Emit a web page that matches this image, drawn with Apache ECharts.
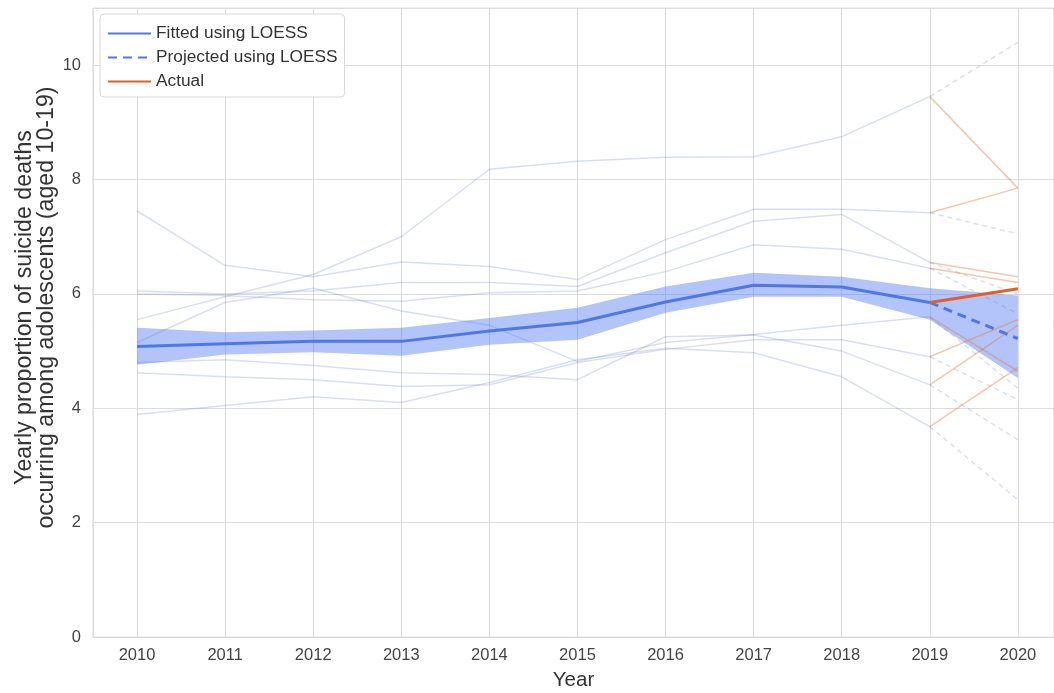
<!DOCTYPE html>
<html>
<head>
<meta charset="utf-8">
<script src="https://cdn.jsdelivr.net/npm/echarts@6/dist/echarts.min.js"></script>
<style>
html,body{margin:0;padding:0;background:#fff;}
#chart{width:1054px;height:693px;}
</style>
</head>
<body>
<div id="chart"></div>
<script>
// ---- data ----
const years = [2010, 2011, 2012, 2013, 2014, 2015, 2016, 2017, 2018, 2019];
const fitted = [5.08, 5.13, 5.17, 5.17, 5.35, 5.5, 5.86, 6.15, 6.12, 5.85];
const fittedProjected2020 = 5.22;
const fittedActual2020 = 6.09;
const bandYears = [2010, 2011, 2012, 2013, 2014, 2015, 2016, 2017, 2018, 2019, 2020];
const bandLow = [4.76, 4.94, 4.98, 4.92, 5.11, 5.2, 5.67, 5.95, 5.95, 5.55, 4.53];
const bandHigh = [5.41, 5.33, 5.36, 5.41, 5.58, 5.76, 6.13, 6.37, 6.3, 6.1, 5.97];

const countryA = [5.55, 5.95, 6.34, 7.0, 8.18, 8.32, 8.39, 8.4, 8.75, 9.45];
const countryB = [7.45, 6.5, 6.3, 6.56, 6.48, 6.25, 6.95, 7.48, 7.48, 7.42];
const countryC = [6.05, 6.0, 6.05, 6.2, 6.2, 6.13, 6.72, 7.27, 7.39, 6.55];
const countryD = [6.0, 5.97, 5.9, 5.87, 6.02, 6.05, 6.39, 6.86, 6.78, 6.45];
const countryE = [5.15, 5.85, 6.1, 5.7, 5.45, 4.82, 5.15, 5.29, 5.45, 5.6];
const countryF = [4.62, 4.55, 4.5, 4.38, 4.41, 4.8, 5.03, 5.2, 5.2, 4.9];
const countryG = [4.8, 4.85, 4.75, 4.62, 4.59, 4.5, 5.25, 5.28, 5.0, 4.41];
const countryH = [3.89, 4.05, 4.2, 4.1, 4.45, 4.85, 5.05, 4.97, 4.55, 3.68];
const countries = [countryA, countryB, countryC, countryD, countryE, countryF, countryG, countryH];
const projected2020 = [10.4, 7.05, 6.0, 5.65, 4.35, 4.15, 3.45, 2.4];
const actual2020 = [7.85, 7.85, 6.3, 6.2, 4.65, 5.55, 5.45, 4.71];

const yTicks = [0, 2, 4, 6, 8, 10];

// ---- styles ----
const FONT = 'Liberation Sans, Arial, sans-serif';
const faintBlue = 'rgba(95,115,215,0.24)';
const faintOrange = 'rgba(232,120,50,0.42)';
const mainBlue = '#4f78e6';
const mainOrange = '#e0602a';

const series = [];
countries.forEach((c, i) => {
  series.push({
    type: 'line', name: 'country' + i, symbol: 'none', silent: true, z: 1,
    data: years.map((y, j) => [y, c[j]]),
    lineStyle: { color: faintBlue, width: 1.5 }
  });
  series.push({
    type: 'line', name: 'countryProj' + i, symbol: 'none', silent: true, z: 1,
    data: [[2019, c[c.length - 1]], [2020, projected2020[i]]],
    lineStyle: { color: faintBlue, width: 1.5, type: [5, 4] }
  });
  series.push({
    type: 'line', name: 'countryAct' + i, symbol: 'none', silent: true, z: 3,
    data: [[2019, c[c.length - 1]], [2020, actual2020[i]]],
    lineStyle: { color: faintOrange, width: 1.5 }
  });
});

// confidence band drawn as a polygon through the axis scales
series.push({
  type: 'custom', name: 'band', silent: true, z: 2,
  data: bandYears.map((y, j) => [y, bandLow[j], bandHigh[j]]),
  encode: { x: 0, y: [1, 2] },
  renderItem: function (params, api) {
    if (params.dataIndex !== 0) return;
    const pts = [];
    bandYears.forEach((y, j) => pts.push(api.coord([y, bandHigh[j]])));
    for (let j = bandYears.length - 1; j >= 0; j--) pts.push(api.coord([bandYears[j], bandLow[j]]));
    return { type: 'polygon', shape: { points: pts }, style: { fill: 'rgba(85,125,242,0.45)' } };
  }
});

series.push({
  type: 'line', name: 'Fitted using LOESS', symbol: 'none', z: 5,
  data: years.map((y, j) => [y, fitted[j]]),
  lineStyle: { color: mainBlue, width: 3 }, itemStyle: { color: mainBlue }
});
series.push({
  type: 'line', name: 'Projected using LOESS', symbol: 'none', z: 5,
  data: [[2019, fitted[fitted.length - 1]], [2020, fittedProjected2020]],
  lineStyle: { color: mainBlue, width: 3, type: [9, 6] }, itemStyle: { color: mainBlue }
});
series.push({
  type: 'line', name: 'Actual', symbol: 'none', z: 6,
  data: [[2019, fitted[fitted.length - 1]], [2020, fittedActual2020]],
  lineStyle: { color: mainOrange, width: 3 }, itemStyle: { color: mainOrange }
});

const chart = echarts.init(document.getElementById('chart'), null, { renderer: 'canvas' });
chart.setOption({
  animation: false,
  backgroundColor: '#fff',
  grid: {
    left: 93, right: 0, top: 8, bottom: 56,
    outerBoundsMode: 'none', containLabel: false,
    show: true, borderColor: '#dadada', borderWidth: 1, backgroundColor: 'transparent'
  },
  legend: {
    data: ['Fitted using LOESS', 'Projected using LOESS', 'Actual'],
    orient: 'vertical', left: 100, top: 14,
    itemWidth: 43, itemHeight: 14, itemGap: 7,
    padding: [11, 7, 7, 7],
    itemStyle: { opacity: 0 },
    backgroundColor: '#fff', borderColor: '#d8d8d8', borderWidth: 1, borderRadius: 4,
    textStyle: { fontFamily: FONT, fontSize: 17.3, color: '#333' }
  },
  xAxis: {
    type: 'value', min: 2009.5, max: 2020.41,
    minInterval: 1, maxInterval: 1,
    name: 'Year', nameLocation: 'middle', nameGap: 33,
    nameTextStyle: { fontFamily: FONT, fontSize: 20.5, color: '#333' },
    axisLine: { show: false }, axisTick: { show: false },
    axisLabel: {
      fontFamily: FONT, fontSize: 16.5, color: '#444', margin: 10,
      formatter: v => (Number.isInteger(v) ? String(v) : '')
    },
    splitLine: { show: true, lineStyle: { color: '#dcdcdc', width: 1.2 } }
  },
  yAxis: {
    type: 'value', min: 0, max: 11, interval: 2,
    name: 'Yearly proportion of suicide deaths\noccurring among adolescents (aged 10-19)',
    nameLocation: 'middle', nameGap: 35, nameMoveOverlap: false,
    nameTextStyle: { fontFamily: FONT, fontSize: 23.2, color: '#333', lineHeight: 22, padding: [0, 0, 0, 30] },
    axisLine: { show: false }, axisTick: { show: false },
    axisLabel: {
      fontFamily: FONT, fontSize: 16.5, color: '#444', margin: 12,
      formatter: v => (yTicks.includes(v) ? String(v) : '')
    },
    splitLine: { show: true, lineStyle: { color: '#dcdcdc', width: 1.2 } }
  },
  series: series
});
</script>
</body>
</html>
